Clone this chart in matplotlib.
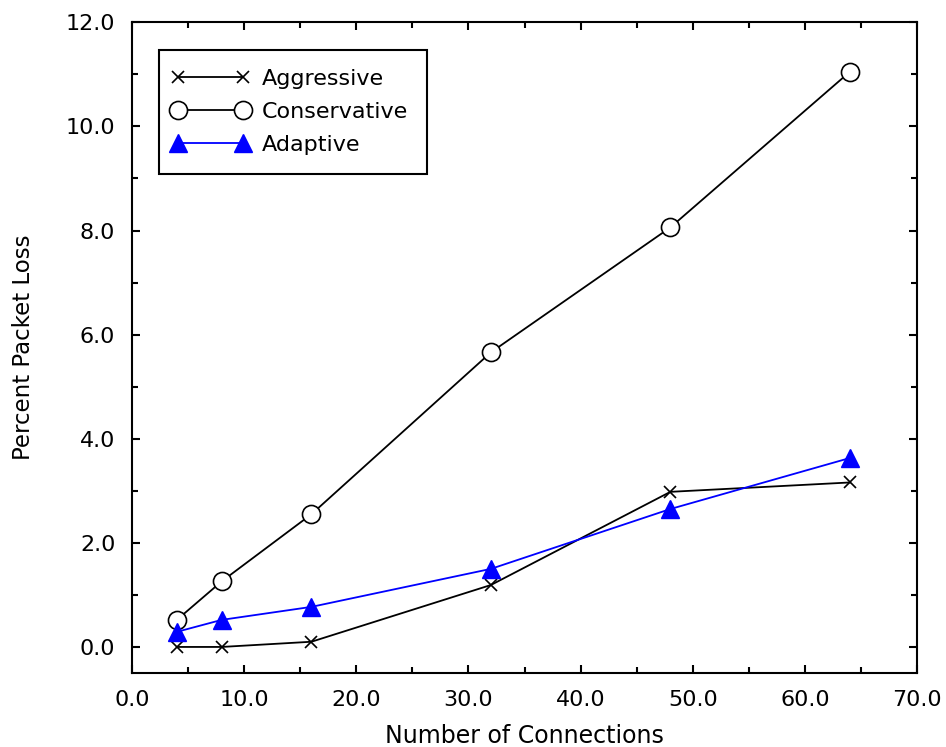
import matplotlib
matplotlib.use("Agg")
import matplotlib.pyplot as plt
from matplotlib.ticker import MultipleLocator, FormatStrFormatter
from matplotlib.legend_handler import HandlerLine2D
from matplotlib.lines import Line2D

connections = [4, 8, 16, 32, 48, 64]
aggressive = [0.0, 0.0, 0.1, 1.19, 2.98, 3.16]
conservative = [0.52, 1.26, 2.55, 5.66, 8.06, 11.05]
adaptive = [0.29, 0.52, 0.77, 1.5, 2.65, 3.63]

fig = plt.figure(figsize=(9.46, 7.47), dpi=100)
ax = fig.add_axes([0.1395, 0.0991, 0.83, 0.871])

ax.plot(connections, aggressive, color='black', lw=1.3, marker='x', ms=9, mew=1.2,
        label='Aggressive')
ax.plot(connections, conservative, color='black', lw=1.3, marker='o', ms=13, mfc='white',
        mec='black', mew=1.2, label='Conservative')
ax.plot(connections, adaptive, color='blue', lw=1.3, marker='^', ms=13, mfc='blue',
        mec='blue', label='Adaptive')

ax.set_xlim(0, 70)
ax.set_ylim(-0.5, 12)
ax.xaxis.set_major_locator(MultipleLocator(10))
ax.xaxis.set_minor_locator(MultipleLocator(5))
ax.yaxis.set_major_locator(MultipleLocator(2))
ax.yaxis.set_minor_locator(MultipleLocator(1))
ax.xaxis.set_major_formatter(FormatStrFormatter('%.1f'))
ax.yaxis.set_major_formatter(FormatStrFormatter('%.1f'))
ax.tick_params(which='both', direction='in', top=True, right=True, labelsize=16, width=1.5)
ax.tick_params(which='major', length=6, pad=12)
ax.tick_params(which='minor', length=4)
for s in ax.spines.values():
    s.set_linewidth(1.5)

ax.set_xlabel('Number of Connections', fontsize=17, labelpad=10)
ax.set_ylabel('Percent Packet Loss', fontsize=16.5, labelpad=22)

leg = ax.legend(loc='upper left', bbox_to_anchor=(0.035, 0.958), numpoints=2, fontsize=16,
                fancybox=False, framealpha=1, edgecolor='black', handlelength=2.9,
                handletextpad=0.85, borderpad=0.85, labelspacing=0.6, borderaxespad=0,
                handler_map={Line2D: HandlerLine2D(marker_pad=0)})
leg.get_frame().set_linewidth(1.5)

fig.savefig('out.png', dpi=100)
